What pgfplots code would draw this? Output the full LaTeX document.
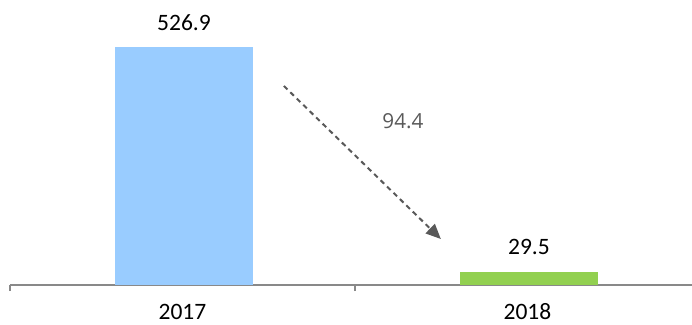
\documentclass[border=0pt]{standalone}
\usepackage{pgfplots}
\pgfplotsset{compat=1.18}
\usepackage{fontspec}
\setmainfont{Carlito}
\newfontfamily\osans{Open Sans}
\usetikzlibrary{arrows.meta}
\definecolor{barblue}{HTML}{99CCFF}
\definecolor{bargreen}{HTML}{92D050}
\definecolor{axgray}{HTML}{898989}
\definecolor{txtgray}{HTML}{595959}
\begin{document}
\begin{tikzpicture}
\path[use as bounding box] (0,0) rectangle (692pt,324pt);
\begin{axis}[
  at={(10pt,39pt)}, anchor=south west,
  scale only axis, width=682pt, height=285pt,
  xmin=-0.5, xmax=1.477, ymin=0, ymax=631,
  axis x line=bottom, axis y line=none,
  x axis line style={-, axgray, line width=1.5pt},
  xtick={0,1}, xticklabels={2017,2018}, major tick length=0pt,
  extra x ticks={-0.5,0.5}, extra x tick labels={},
  extra x tick style={major tick length=6pt, tick align=outside, tick style={axgray, line width=1.5pt}},
  xticklabel style={font=\fontsize{23.5}{28}\selectfont, anchor=base, inner sep=0pt, yshift=-34pt},
  ybar, bar width=138pt, bar shift=1.5pt,
  nodes near coords,
  nodes near coords style={font=\fontsize{23.5}{28}\selectfont, anchor=base, yshift=17pt, black,
    /pgf/number format/fixed, /pgf/number format/precision=1, /pgf/number format/fixed zerofill,
    /pgf/number format/assume math mode=true},
  clip=false,
]
\addplot[fill=barblue, draw=none] coordinates {(0,526.9)};
\addplot[fill=bargreen, draw=none] coordinates {(1,29.5)};
\draw[txtgray, line width=2pt, dash pattern=on 5pt off 4pt, -{Triangle[length=15pt,width=13pt]}] (axis cs:0.294,440.6) -- (axis cs:0.749,101.8);
\node[txtgray, font=\osans\fontsize{20.7}{24}\selectfont] at (axis cs:0.639,363) {94.4};
\end{axis}
\end{tikzpicture}
\end{document}
